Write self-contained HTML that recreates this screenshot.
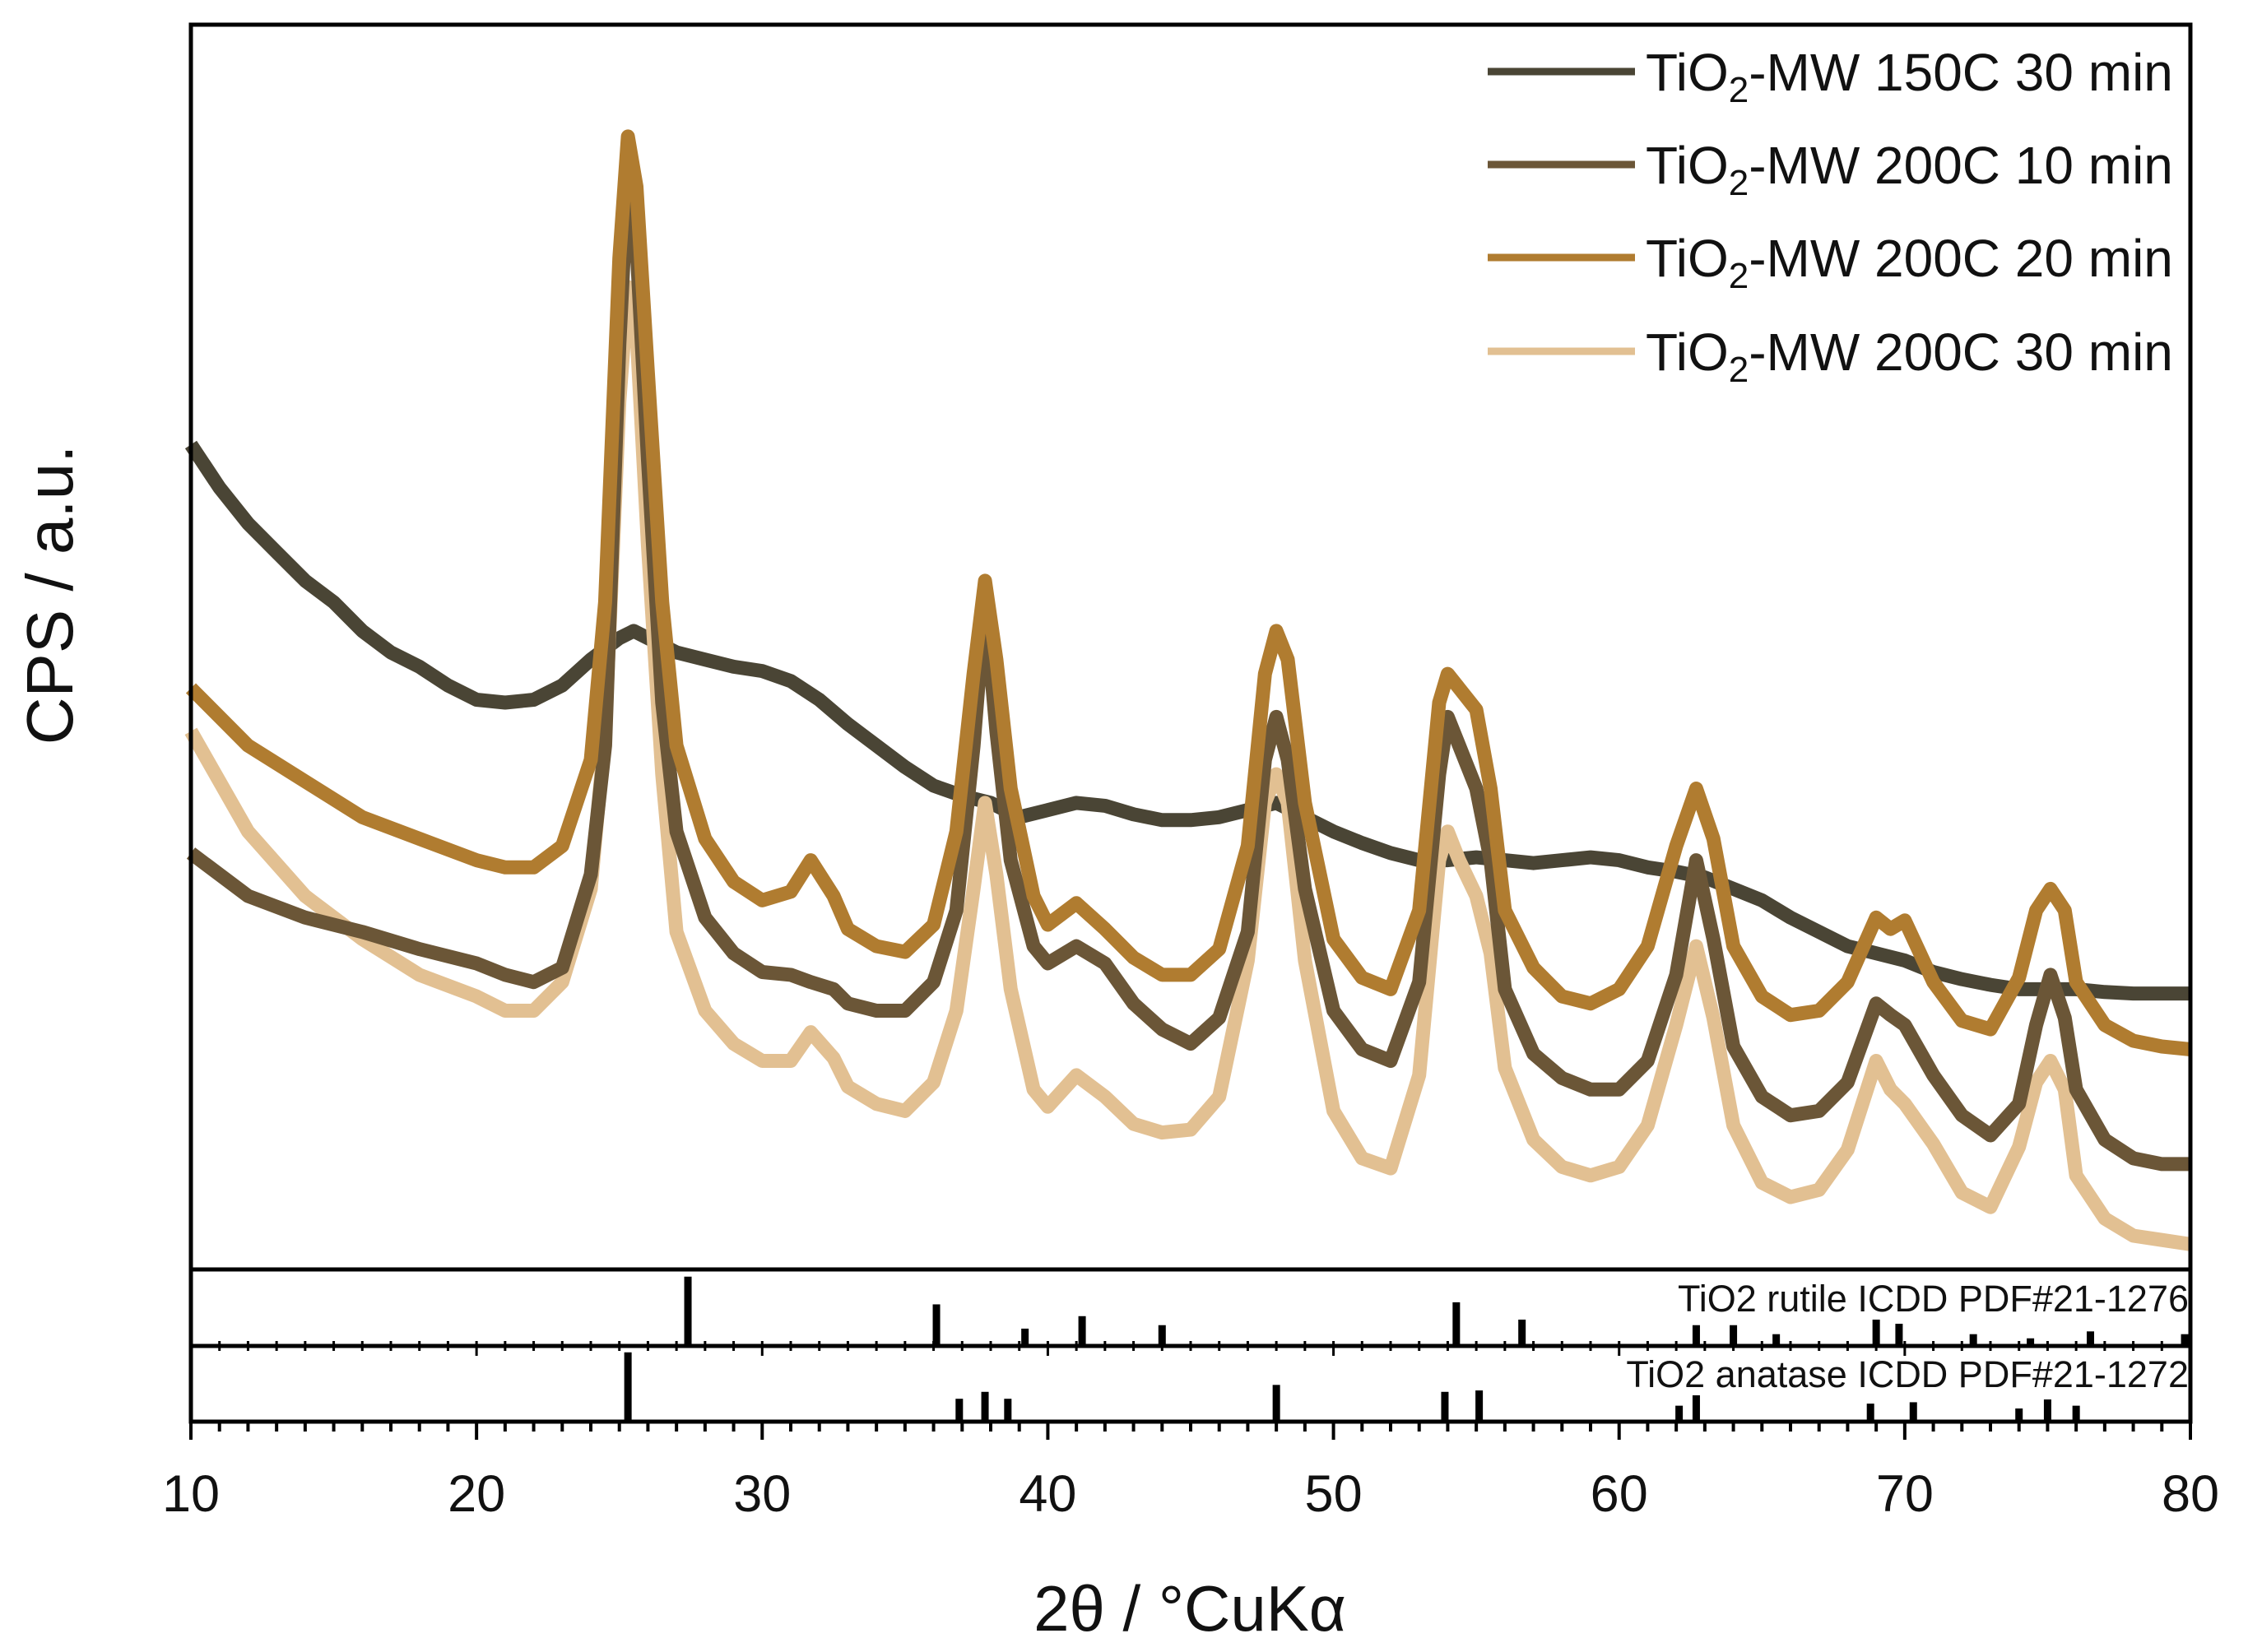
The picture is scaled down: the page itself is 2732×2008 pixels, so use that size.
<!DOCTYPE html>
<html><head><meta charset="utf-8"><style>
html,body{margin:0;padding:0;background:#fff;}
svg{display:block;font-family:"Liberation Sans",sans-serif;}
</style></head><body>
<svg id="chart" width="2732" height="2008" viewBox="0 0 2732 2008" xmlns="http://www.w3.org/2000/svg">
<g id="series-layer"></g>
<g id="ref-layer"></g>
<g id="axes-layer"></g>
<g font-size="64" fill="#111">
  <line x1="1808" y1="87" x2="1987" y2="87" stroke="#4a4535" stroke-width="9"/>
  <text x="2000" y="110">TiO<tspan font-size="44" dy="14">2</tspan><tspan dy="-14">-MW 150C 30 min</tspan></text>
  <line x1="1808" y1="200" x2="1987" y2="200" stroke="#6b5637" stroke-width="9"/>
  <text x="2000" y="223">TiO<tspan font-size="44" dy="14">2</tspan><tspan dy="-14">-MW 200C 10 min</tspan></text>
  <line x1="1808" y1="313" x2="1987" y2="313" stroke="#b07c30" stroke-width="9"/>
  <text x="2000" y="336">TiO<tspan font-size="44" dy="14">2</tspan><tspan dy="-14">-MW 200C 20 min</tspan></text>
  <line x1="1808" y1="427" x2="1987" y2="427" stroke="#e2c092" stroke-width="9"/>
  <text x="2000" y="450">TiO<tspan font-size="44" dy="14">2</tspan><tspan dy="-14">-MW 200C 30 min</tspan></text>
</g>
<text x="2660" y="1594" font-size="45" text-anchor="end" fill="#111">TiO2 rutile ICDD PDF#21-1276</text>
<text x="2660" y="1686" font-size="45" text-anchor="end" fill="#111">TiO2 anatase ICDD PDF#21-1272</text>
<text x="1446" y="1982" font-size="78" text-anchor="middle" fill="#111">2θ / °CuKα</text>
<text transform="translate(88,723) rotate(-90)" font-size="80" text-anchor="middle" fill="#111">CPS / a.u.</text>
</svg>
<script>
const xTicks=[10,20,30,40,50,60,70,80];
const s150_30_x=[10,11,12,13,14,15,16,17,18,19,20,21,22,23,24,25,25.5,26,27,28,29,30,31,32,33,34,35,36,37,38,39,40,41,42,43,44,45,46,47,48,49,50,51,52,53,54,55,56,57,58,59,60,61,62,63,64,65,66,67,68,69,70,71,72,73,74,75,76,77,78,79,80];
const s150_30_y=[590,560,535,515,495,480,460,445,435,422,412,410,412,422,440,455,460,455,445,440,435,432,425,412,395,380,365,352,345,340,330,335,340,338,332,328,328,330,335,340,330,320,312,305,300,300,302,300,298,300,302,300,295,292,288,280,272,260,250,240,235,230,222,217,213,210,210,210,208,207,207,207];
const pkX=[10,12,14,16,18,20,21,22,23,24,24.5,25,25.3,25.6,26,26.5,27,28,29,30,31,31.7,32.5,33,34,35,36,36.8,37.4,37.8,38.2,38.7,39.5,40,41,42,43,44,45,46,47,47.6,48,48.4,49,50,51,52,53,53.7,54,54.4,55,55.5,56,57,58,59,60,61,62,62.7,63.3,64,65,66,67,68,69,69.5,70,71,72,73,74,74.6,75.1,75.6,76,77,78,79,80];
const s200_10_y=[305,275,260,250,238,228,220,215,225,290,380,660,780,730,580,410,320,260,235,222,220,215,210,200,195,195,215,265,380,480,390,300,240,228,240,228,200,182,172,190,250,370,400,370,280,195,168,160,215,360,400,380,350,300,210,165,148,140,140,160,220,300,245,170,135,122,125,145,200,192,185,150,122,108,130,185,220,190,140,105,92,88,88];
const s200_20_y=[420,380,355,330,315,300,295,295,310,370,480,720,805,770,640,480,380,315,285,272,278,300,275,252,240,236,255,320,430,495,440,350,275,255,270,252,232,220,220,238,310,430,460,440,340,245,218,210,265,410,430,420,405,350,265,225,205,200,210,240,310,350,315,240,205,192,195,215,260,252,258,215,188,182,218,265,280,265,215,185,174,170,168];
const s200_30_y=[390,320,275,245,220,205,195,195,215,280,390,620,700,670,520,360,250,195,172,160,160,180,162,142,130,125,145,195,280,340,290,210,140,128,150,135,116,110,112,135,230,340,360,340,230,125,92,85,150,300,320,300,275,235,155,105,86,80,86,115,185,240,190,115,75,65,70,98,160,140,130,102,68,58,100,145,160,140,80,50,38,35,32];
const rutile2t=[27.4,36.1,39.2,41.2,44.0,54.3,56.6,62.7,64.0,65.5,69.0,69.8,72.4,74.4,76.5,79.8];
const rutileI=[100,60,25,43,30,63,38,30,30,17,38,32,17,11,21,17];
const anatase2t=[25.3,36.9,37.8,38.6,48.0,53.9,55.1,62.1,62.7,68.8,70.3,74.0,75.0,76.0];
const anataseI=[100,33,43,33,53,43,45,23,38,26,28,19,32,23];

const NS='http://www.w3.org/2000/svg';
const L=232,R=2662,T=30,MB=1543,RB=1636,AB=1728,S=1.742;
function xs(v){return L+(v-10)/70*(R-L);}
function ys(c){return T+(900-c-17)*S;}
function mk(tag,attrs,parent){const e=document.createElementNS(NS,tag);for(const k in attrs)e.setAttribute(k,attrs[k]);parent.appendChild(e);return e;}
const sl=document.getElementById('series-layer');
function drawSeries(xsArr,ysArr,color,name){
  let d='';
  for(let i=0;i<xsArr.length;i++){d+=(i?'L':'M')+xs(xsArr[i]).toFixed(1)+','+ys(ysArr[i]).toFixed(1);}
  const p=mk('path',{d:d,fill:'none',stroke:color,'stroke-width':17,'stroke-linejoin':'round'},sl);
  
  
}
drawSeries(s150_30_x,s150_30_y,'#4a4535','series-150c-30min');
drawSeries(pkX,s200_30_y,'#e2c092','series-200c-30min');
drawSeries(pkX,s200_10_y,'#6b5637','series-200c-10min');
drawSeries(pkX,s200_20_y,'#b07c30','series-200c-20min');

const rl=document.getElementById('ref-layer');
const pxPerI=52*S/100;
rutile2t.forEach((t,i)=>{
  const h=rutileI[i]*pxPerI*0.93;
  const r=mk('rect',{x:xs(t)-4.5,y:RB-h,width:9,height:h,fill:'#000'},rl);
  
  
});
anatase2t.forEach((t,i)=>{
  const h=anataseI[i]*pxPerI*0.93;
  const r=mk('rect',{x:xs(t)-4.5,y:AB-h,width:9,height:h,fill:'#000'},rl);
  
  
});

const al=document.getElementById('axes-layer');
const frame=mk('rect',{x:L,y:T,width:R-L,height:AB-T,fill:'none',stroke:'#000','stroke-width':5},al);


[MB,RB].forEach(y=>{
  const l=mk('line',{x1:L,y1:y,x2:R,y2:y,stroke:'#000','stroke-width':5},al);
  
  
});
for(let v=10;v<=80;v++){
  const major=(v%10===0);
  const t=mk('line',{x1:xs(v),y1:AB,x2:xs(v),y2:AB+(major?22:12),stroke:'#000','stroke-width':4},al);
  
  
  const t2=mk('line',{x1:xs(v),y1:RB-6,x2:xs(v),y2:RB+(major?12:6),stroke:'#000','stroke-width':3},al);
  
  
}
xTicks.forEach(v=>{
  const tx=mk('text',{x:xs(v),y:1837,'font-size':63,'text-anchor':'middle',fill:'#111'},al);
  tx.textContent=String(v);
  
  
});
</script>
</body></html>
